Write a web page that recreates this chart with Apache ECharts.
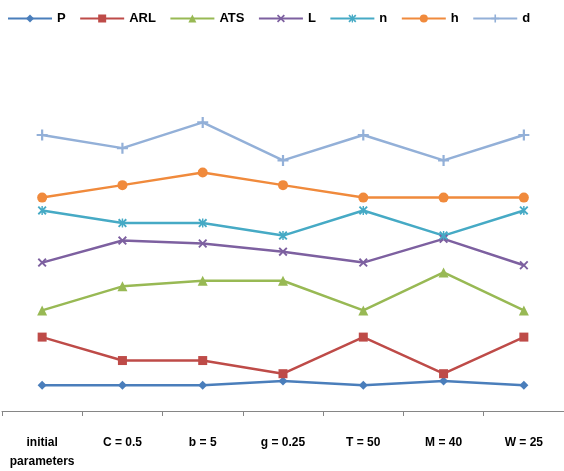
<!DOCTYPE html>
<html>
<head>
<meta charset="utf-8">
<script src="https://cdn.jsdelivr.net/npm/echarts@6/dist/echarts.min.js"></script>
<style>html,body{margin:0;padding:0;background:#fff}#c{width:564px;height:471px}</style>
</head>
<body>
<div id="c"></div>
<script>
var categories = ['initial\nparameters', 'C = 0.5', 'b = 5', 'g = 0.25', 'T = 50', 'M = 40', 'W = 25'];
var seriesNames = ['P', 'ARL', 'ATS', 'L', 'n', 'h', 'd'];
var P   = [26, 26, 26, 30.3, 26, 30.3, 26];
var ARL = [74.7, 51, 51, 37.7, 74.7, 37.7, 74.7];
var ATS = [101.7, 126, 131.7, 131.7, 101.7, 140, 101.7];
var L   = [150, 172.3, 169.3, 161, 150, 174, 147.3];
var n   = [202.7, 190, 190, 177.3, 202.7, 177.3, 202.7];
var h   = [215.7, 228.3, 241, 228.3, 215.7, 215.7, 215.7];
var d   = [279, 265.7, 291.7, 253.3, 279, 253.3, 279];

var values = [P, ARL, ATS, L, n, h, d];
var colors = ['#4A7EBB', '#BE4B48', '#98B954', '#7D60A0', '#46AAC5', '#F08A3C', '#93B0D8'];
var plusPath = 'path://M4,0H6V4H10V6H6V10H4V6H0V4H4Z';
var xPath = 'path://M1.5,0L5,3.5L8.5,0L10,1.5L6.5,5L10,8.5L8.5,10L5,6.5L1.5,10L0,8.5L3.5,5L0,1.5Z';
var starPath = 'path://M1.5,0L4.2,2.7V0H5.8V2.7L8.5,0L10,1.5L6.5,5L10,8.5L8.5,10L5.8,7.3V10H4.2V7.3L1.5,10L0,8.5L3.5,5L0,1.5Z';
var symbols = ['diamond', 'rect', 'triangle', xPath, starPath, 'circle', plusPath];
var sizes = [9, 9, 10, 9, 9, 10, 11];

var series = seriesNames.map(function (name, i) {
  return {
    name: name,
    type: 'line',
    data: values[i],
    symbol: symbols[i],
    symbolSize: sizes[i],
    showAllSymbol: true,
    lineStyle: { width: 2.5, color: colors[i] },
    itemStyle: { color: colors[i] },
    emphasis: { disabled: true },
    animation: false
  };
});

var chart = echarts.init(document.getElementById('c'));
chart.setOption({
  animation: false,
  color: colors,
  legend: {
    data: seriesNames,
    left: 2,
    top: 7,
    itemWidth: 44,
    itemHeight: 10,
    itemGap: 13.5,
    textStyle: { fontFamily: 'Liberation Sans', fontWeight: 'bold', fontSize: 13, color: '#000' }
  },
  grid: { left: 2, right: -2.7, top: 40, bottom: 56, containLabel: false },
  xAxis: {
    type: 'category',
    data: categories,
    boundaryGap: true,
    axisLine: { lineStyle: { color: '#868686', width: 1 } },
    axisTick: { show: true, length: 5, lineStyle: { color: '#868686' } },
    axisLabel: {
      interval: 0,
      margin: 22,
      fontFamily: 'Liberation Sans',
      fontWeight: 'bold',
      fontSize: 12,
      lineHeight: 19,
      color: '#000'
    }
  },
  yAxis: {
    type: 'value',
    min: 0,
    max: 375,
    show: false,
    splitLine: { show: false }
  },
  series: series
});
</script>
</body>
</html>
